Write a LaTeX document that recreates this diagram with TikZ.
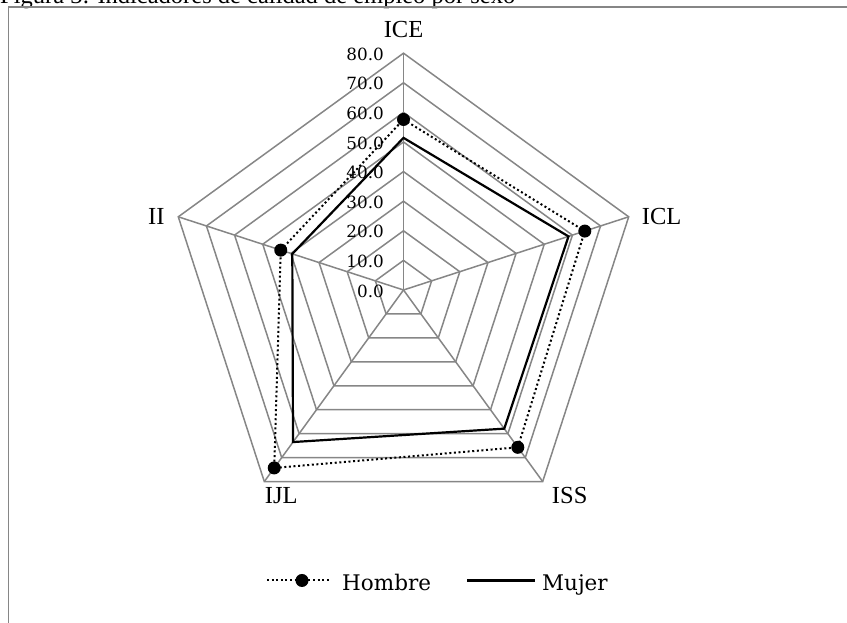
\documentclass[tikz,border=0pt]{standalone}
\usepackage{fontspec}
\setmainfont{Liberation Serif}
\newfontfamily\numfont{DejaVu Serif}
\usetikzlibrary{calc}
\definecolor{gridgray}{RGB}{134,134,134}

\tikzset{
    radargrid/.style={draw=gridgray, line width=1.5pt, line join=miter},
    hombre/.style={line width=2pt, dash pattern=on 2pt off 2.6pt},
    mujer/.style={line width=2.2pt, line join=miter},
    marca/.style={circle, fill=black, inner sep=0pt, minimum size=13pt},
    cat/.style={font=\fontsize{24.5}{28}\selectfont, inner sep=0pt},
    valor/.style={font=\numfont\fontsize{16.8}{20}\selectfont, anchor=east, inner sep=0pt},
    leyenda/.style={font=\numfont\fontsize{21.5}{25}\selectfont, anchor=base west, inner sep=0pt},
}

\begin{document}
\begin{tikzpicture}[x=1pt,y=1pt]
    \useasboundingbox (0,0) rectangle (847,623);
    \coordinate (C) at (403.5,333);

    % title and frame
    \node[anchor=base west, inner sep=0pt, font=\fontsize{24.5}{28}\selectfont] (titulo) at (0,619) {Figura 3: Indicadores de calidad de empleo por sexo};
    \draw[gridgray, line width=1.2pt] (8.5,-5) |- (860,616);

    % grid
    \foreach \k in {1,...,8} {
        \pgfmathsetmacro{\r}{\k*29.6}
        \draw[radargrid, shift={(C)}] (90:\r) -- (18:\r) -- (-54:\r) -- (-126:\r) -- (162:\r) -- cycle;
    }
    \foreach \a/\n in {90/ICE,18/ICL,-54/ISS,-126/IJL,162/II} {
        \coordinate (v-\n) at ($(C)+(\a:236.8)$);
        \draw[radargrid] (C) -- (v-\n);
    }

    % axis values
    \foreach \k/\t in {0/0.0,1/10.0,2/20.0,3/30.0,4/40.0,5/50.0,6/60.0,7/70.0,8/80.0}
        \node[valor] (eje-\k) at ($(C)+(-19.5,\k*29.6-1)$) {\t};

    % categories
    \node[cat] (l-ICE) at ($(v-ICE)+(0,24)$) {ICE};
    \node[cat] (l-ICL) at ($(v-ICL)+(33,0)$) {ICL};
    \node[cat] (l-II)  at ($(v-II)+(-22,0)$) {II};
    \node[cat] (l-ISS) at ($(v-ISS)+(27,-14)$) {ISS};
    \node[cat] (l-IJL) at ($(v-IJL)+(17,-14)$) {IJL};

    % data
    \foreach \a/\n/\h/\m in {90/ICE/57.6/51.4, 18/ICL/64.4/58.6, -54/ISS/65.7/57.9, -126/IJL/74.3/63.5, 162/II/43.6/39.5} {
        \coordinate (h-\n) at ($(C)+(\a:\h*2.96)$);
        \coordinate (m-\n) at ($(C)+(\a:\m*2.96)$);
    }
    \draw[mujer] (m-ICE) -- (m-ICL) -- (m-ISS) -- (m-IJL) -- (m-II) -- cycle;
    \draw[hombre] (h-ICE) -- (h-ICL) -- (h-ISS) -- (h-IJL) -- (h-II) -- cycle;
    \foreach \n in {ICE,ICL,ISS,IJL,II}
        \node[marca] (p-\n) at (h-\n) {};

    % legend
    \coordinate (lh-a) at (267,42.5);
    \coordinate (lh-b) at (330,42.5);
    \draw[hombre] (lh-a) -- (lh-b);
    \node[marca] (lh-m) at (302,42.5) {};
    \node[leyenda] (lh-t) at (342,32) {Hombre};
    \coordinate (lm-a) at (467,42.5);
    \coordinate (lm-b) at (535,42.5);
    \draw[mujer] (lm-a) -- (lm-b);
    \node[leyenda] (lm-t) at (542,32) {Mujer};
\end{tikzpicture}
\end{document}
